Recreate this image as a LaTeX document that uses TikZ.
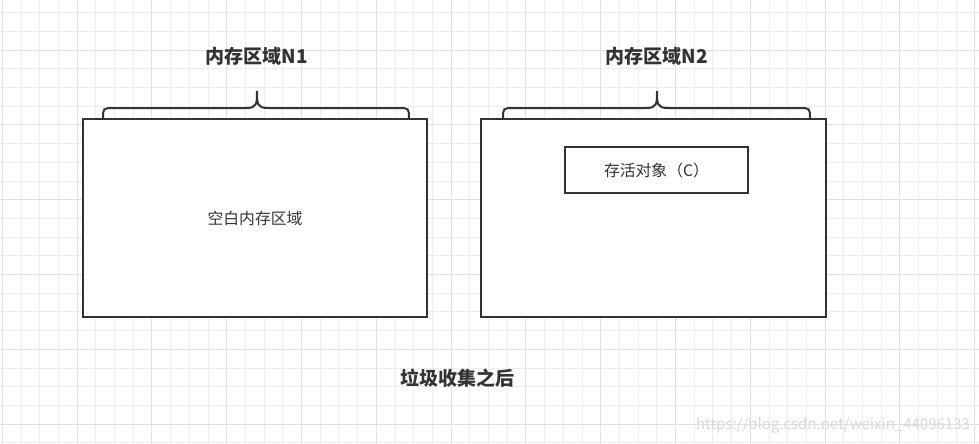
\documentclass[tikz,border=0pt]{standalone}
\usepackage{fontspec}
\newfontfamily\cjk{Noto Sans CJK SC}
\setmainfont{Noto Sans CJK SC}
\begin{document}
\begin{tikzpicture}[x=1pt,y=-1pt,
  frame/.style={draw=black!80,line width=2.3pt},
  brace/.style={draw=black!80,line width=2pt},
  title/.style={font=\cjk\bfseries\fontsize{19}{22}\selectfont,text=black!80},
  lbl/.style={font=\cjk\fontsize{15.8}{18}\selectfont,text=black!80}]
\useasboundingbox (0,0) rectangle (979,444);
\fill[white] (0,0) rectangle (979,444);
% grid
\foreach \i in {0,...,52}{
  \pgfmathsetmacro{\xx}{2.2+18.7*\i}
  \draw[black!7,line width=0.8pt] (\xx,0) -- (\xx,444);
}
\foreach \i in {-1,...,23}{
  \pgfmathsetmacro{\yy}{12.6+18.7*\i}
  \draw[black!7,line width=0.8pt] (0,\yy) -- (979,\yy);
}
\foreach \i in {0,...,13}{
  \pgfmathsetmacro{\xx}{2.2+74.8*\i}
  \draw[black!12,line width=0.8pt] (\xx,0) -- (\xx,444);
}
\foreach \i in {0,...,5}{
  \pgfmathsetmacro{\yy}{50+74.8*\i}
  \draw[black!12,line width=0.8pt] (0,\yy) -- (979,\yy);
}
% boxes
\node[frame,fill=white,minimum width=344pt,minimum height=198pt,inner sep=0pt] (n1) at (255,218) {};
\node[frame,fill=white,minimum width=345pt,minimum height=198pt,inner sep=0pt] (n2) at (653.5,218) {};
\node[lbl] (empty) at (n1.center) {空白内存区域};
\node[frame,fill=white,minimum width=183pt,minimum height=46pt,inner sep=0pt,lbl] (obj) at (656.5,170) {存活对象（C）};
% braces
\draw[brace] (103,119) .. controls (103,108) .. (114,108) -- (246,108) .. controls (257,108) and (257,104) .. (257,91)
  .. controls (257,104) and (257,108) .. (268,108) -- (398,108) .. controls (409,108) .. (409,119);
\draw[brace] (503,119) .. controls (503,108) .. (514,108) -- (646,108) .. controls (657,108) and (657,104) .. (657,91)
  .. controls (657,104) and (657,108) .. (668,108) -- (799,108) .. controls (810,108) .. (810,119);
% titles
\node[title] (t1) at (257,56) {内存区域N1};
\node[title] (t2) at (657,56) {内存区域N2};
\node[title] (cap) at (457,378) {垃圾收集之后};
\node[font=\cjk\fontsize{15}{17}\selectfont,text=black!15] (wm) at (833,425) {https://blog.csdn.net/weixin\_44096133};
\end{tikzpicture}
\end{document}
